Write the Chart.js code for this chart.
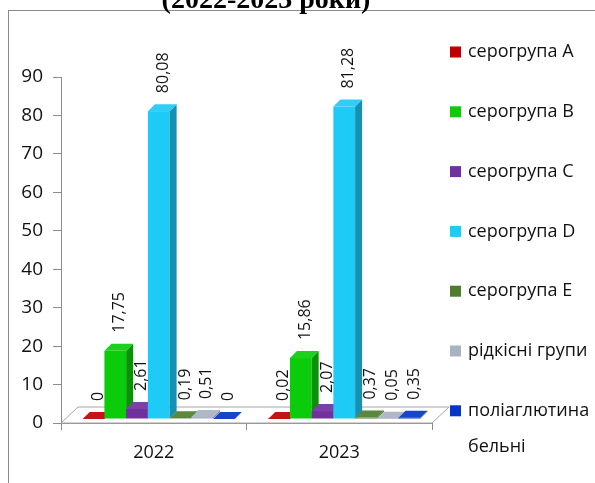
<!DOCTYPE html>
<html>
<head>
<meta charset="utf-8">
<script src="https://cdn.jsdelivr.net/npm/chart.js@4"></script>
<style>
  html, body { margin: 0; padding: 0; background: #fff; }
  canvas { display: block; }
</style>
</head>
<body>
<canvas id="chart" width="595" height="483"></canvas>
<script>
const titleText = '(2022-2023 роки)';
const years = ['2022', '2023'];
const seriesNames = ['серогрупа А', 'серогрупа В', 'серогрупа С', 'серогрупа D', 'серогрупа Е', 'рідкісні групи', 'поліаглютина\nбельні'];
const serogroupA = [0, 0.02];
const serogroupB = [17.75, 15.86];
const serogroupC = [2.61, 2.07];
const serogroupD = [80.08, 81.28];
const serogroupE = [0.19, 0.37];
const rareGroups = [0.51, 0.05];
const polyagglutinating = [0, 0.35];
const yMin = 0, yMax = 90, yStep = 10;

const seriesValues = [serogroupA, serogroupB, serogroupC, serogroupD, serogroupE, rareGroups, polyagglutinating];
const colors = ['#c00000', '#0acc0a', '#7030a0', '#1ecaf6', '#4e7d2e', '#a7b2c2', '#0336c8'];

// oblique 3D look
const depth = { fx: 5, fy: 4, dx: 7, dy: 7, floorDx: 17, floorDy: 16 };
const FONT = '"Open Sans", "Liberation Sans", sans-serif';

function shade(hex, f) {
    const n = parseInt(hex.slice(1), 16);
    let r = (n >> 16) & 255, g = (n >> 8) & 255, b = n & 255;
    const m = c => Math.max(0, Math.min(255, Math.round(f < 0 ? c * (1 + f) : c + (255 - c) * f)));
    return 'rgb(' + m(r) + ',' + m(g) + ',' + m(b) + ')';
}

function poly(ctx, pts, fill, stroke) {
    ctx.beginPath();
    ctx.moveTo(pts[0][0], pts[0][1]);
    for (let k = 1; k < pts.length; k++) ctx.lineTo(pts[k][0], pts[k][1]);
    ctx.closePath();
    if (fill) { ctx.fillStyle = fill; ctx.fill(); }
    if (stroke) { ctx.strokeStyle = stroke; ctx.lineWidth = 1; ctx.stroke(); }
}

const bars3d = {
    id: 'bars3d',
    beforeDraw(chart) {
        const ctx = chart.ctx;
        ctx.save();
        ctx.strokeStyle = '#8a8a8a';
        ctx.lineWidth = 1;
        ctx.strokeRect(8.5, 10.5, 800, 800);
        ctx.restore();
    },
    beforeDatasetsDraw(chart) {
        const ctx = chart.ctx, a = chart.chartArea;
        const L = a.left, R = a.right, B = a.bottom;
        ctx.save();
        poly(ctx, [[L, B], [R, B], [R + depth.floorDx, B - depth.floorDy], [L + depth.floorDx, B - depth.floorDy]], '#ffffff', '#a6a6a6');
        ctx.restore();
    },
    afterDatasetsDraw(chart) {
        const ctx = chart.ctx;
        const n = chart.data.datasets.length;
        ctx.save();
        const labels = [];
        for (let j = 0; j < years.length; j++) {
            for (let i = 0; i < n; i++) {
                const el = chart.getDatasetMeta(i).data[j];
                const p = el.getProps(['x', 'y', 'base', 'width'], true);
                const x0 = p.x - p.width / 2 + depth.fx, x1 = p.x + p.width / 2 + depth.fx;
                const yt = p.y - depth.fy, yb = p.base - depth.fy;
                const c = colors[i];
                ctx.fillStyle = c;
                ctx.fillRect(x0, yt, x1 - x0, yb - yt);
                poly(ctx, [[x1, yt], [x1 + depth.dx, yt - depth.dy], [x1 + depth.dx, yb - depth.dy], [x1, yb]], shade(c, -0.28));
                poly(ctx, [[x0, yt], [x0 + depth.dx, yt - depth.dy], [x1 + depth.dx, yt - depth.dy], [x1, yt]], shade(c, 0.08));
                labels.push({ x: (x0 + x1) / 2 + depth.dx / 2 + 1, y: yt - depth.dy - 11, v: seriesValues[i][j] });
            }
        }
        ctx.fillStyle = '#111';
        ctx.font = '16px ' + FONT;
        ctx.textAlign = 'left';
        ctx.textBaseline = 'middle';
        labels.forEach(l => {
            ctx.save();
            ctx.translate(l.x, l.y);
            ctx.rotate(-Math.PI / 2);
            ctx.fillText(String(l.v).replace('.', ','), 0, 0);
            ctx.restore();
        });
        ctx.restore();
    },
    afterDraw(chart) {
        const ctx = chart.ctx;
        ctx.save();
        // title, cut off at the top as in the source
        ctx.fillStyle = '#000';
        ctx.font = 'bold 28px "Liberation Serif", serif';
        ctx.textAlign = 'center';
        ctx.textBaseline = 'alphabetic';
        ctx.fillText(titleText, 266, 8);
        // legend
        ctx.font = '18px ' + FONT;
        ctx.textAlign = 'left';
        ctx.textBaseline = 'middle';
        seriesNames.forEach((name, i) => {
            const cy = 52 + i * 59.8;
            ctx.fillStyle = colors[i];
            ctx.fillRect(450, cy - 5.5, 11, 11);
            ctx.fillStyle = '#111';
            name.split('\n').forEach((line, k) => ctx.fillText(line, 468, cy + k * 36));
        });
        ctx.restore();
    }
};

new Chart(document.getElementById('chart'), {
    type: 'bar',
    data: {
        labels: years,
        datasets: seriesValues.map((vals, i) => ({
            label: seriesNames[i],
            data: vals,
            backgroundColor: 'rgba(0,0,0,0)',
            borderWidth: 0,
            categoryPercentage: 0.82,
            barPercentage: 1.0
        }))
    },
    options: {
        responsive: false,
        animation: false,
        devicePixelRatio: 1,
        layout: { padding: { top: 77, right: 163, bottom: 0, left: 0 } },
        plugins: { legend: { display: false }, tooltip: { enabled: false } },
        scales: {
            x: {
                grid: { drawOnChartArea: false, drawTicks: true, tickLength: 7, color: '#8c8c8c' },
                border: { color: '#8c8c8c' },
                ticks: { color: '#111', font: { family: FONT, size: 18 }, padding: 12 },
                afterFit(scale) { scale.height = 60; }
            },
            y: {
                min: yMin,
                max: yMax,
                grid: { drawOnChartArea: false, drawTicks: true, tickLength: 8, color: '#8c8c8c' },
                border: { color: '#8c8c8c' },
                ticks: { stepSize: yStep, color: '#111', font: { family: FONT, size: 19 }, padding: 10 },
                afterFit(scale) { scale.width = 61; }
            }
        }
    },
    plugins: [bars3d]
});
</script>
</body>
</html>
